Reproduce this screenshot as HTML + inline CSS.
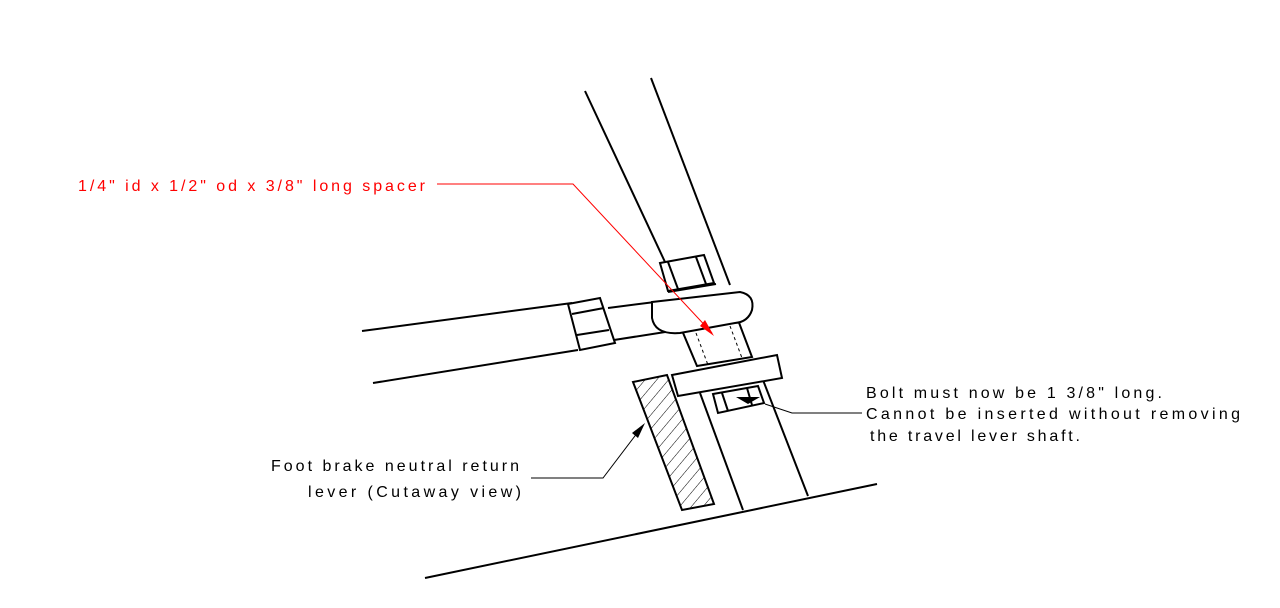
<!DOCTYPE html>
<html><head><style>html,body{margin:0;padding:0;background:#fff}svg{display:block}</style></head>
<body>
<svg width="1280" height="608" viewBox="0 0 1280 608" xmlns="http://www.w3.org/2000/svg" font-family="Liberation Sans, sans-serif">
<defs>
<pattern id="h" width="9" height="9" patternUnits="userSpaceOnUse" patternTransform="rotate(40)">
<line x1="0" y1="0" x2="0" y2="9" stroke="#000" stroke-width="1"/>
</pattern>
</defs>
<g stroke="#000" stroke-width="2" fill="none">
<line x1="585" y1="91" x2="665" y2="262"/>
<line x1="651" y1="78" x2="730" y2="285"/>
<line x1="700" y1="393" x2="743" y2="510"/>
<line x1="763" y1="380" x2="808" y2="496"/>
<line x1="425" y1="578" x2="877" y2="484"/>
<line x1="362" y1="331" x2="572" y2="303"/>
<line x1="373" y1="383" x2="578" y2="350"/>
<polygon points="568,304 600,298 615,343 580,350" fill="#fff"/>
<line x1="572" y1="314" x2="604" y2="308"/>
<line x1="577" y1="335" x2="609" y2="330"/>
<line x1="608" y1="308" x2="655" y2="302"/>
<line x1="614" y1="340" x2="678" y2="330"/>
<polygon points="660,263 704,255 714,283 668,291" fill="#fff"/>
<line x1="668" y1="262" x2="678" y2="289"/>
<line x1="696" y1="257" x2="706" y2="284"/>
<line x1="668" y1="292" x2="716" y2="284"/>
<polygon points="681,328 738,320 752,357 697,366" fill="#fff"/>
<path d="M652,302 L740,292 Q755,295 752,310 Q748,322 735,323 L680,333 Q655,335 652,318 Z" fill="#fff"/>
<polygon points="672,375 777,355 782,378 678,396" fill="#fff"/>
<polygon points="713,394 758,386 764,403 718,413" fill="#fff"/>
<line x1="722" y1="393" x2="728" y2="411"/>
<line x1="747" y1="388" x2="752" y2="405"/>
<polygon points="633,382 667,375 714,504 682,510" fill="url(#h)"/>
</g>
<g stroke="#000" stroke-width="1" stroke-dasharray="3,3">
<line x1="696" y1="333" x2="708" y2="365"/>
<line x1="730" y1="326" x2="742" y2="358"/>
</g>
<polyline points="765,404 792,413 862,413" stroke="#000" stroke-width="1" fill="none"/>
<polygon points="736,397 760,397 748,404" fill="#000"/>
<polyline points="531,478 603,478 641,428" stroke="#000" stroke-width="1" fill="none"/>
<polygon points="645,423 632,433 638,438" fill="#000"/>
<polyline points="437,184 573,184 712,333" stroke="#f00" stroke-width="1" fill="none"/>
<polygon points="714,336 700,326 705,320" fill="#f00"/>
<text x="78" y="191" fill="#f00" font-size="16" textLength="347" lengthAdjust="spacing">1/4" id x 1/2" od x 3/8" long spacer</text>
<text x="866" y="398" font-size="16" textLength="296" lengthAdjust="spacing">Bolt must now be 1 3/8" long.</text>
<text x="866" y="419" font-size="16" textLength="374" lengthAdjust="spacing">Cannot be inserted without removing</text>
<text x="870" y="441" font-size="16" textLength="210" lengthAdjust="spacing">the travel lever shaft.</text>
<text x="271" y="471" font-size="16" textLength="248" lengthAdjust="spacing">Foot brake neutral return</text>
<text x="308" y="497" font-size="16" textLength="213" lengthAdjust="spacing">lever (Cutaway view)</text>
</svg>
</body></html>
